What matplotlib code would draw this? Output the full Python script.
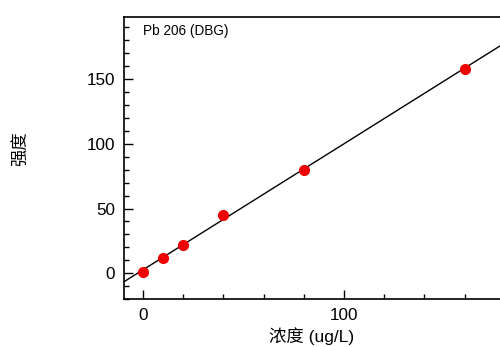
import numpy as np
import matplotlib
matplotlib.use("Agg")
import matplotlib.pyplot as plt
from matplotlib.ticker import MultipleLocator

conc = [0, 10, 20, 40, 80, 160]
intensity = [1, 12, 22, 45, 80, 158]
title_text = "Pb 206 (DBG)"
xlabel = "浓度 (ug/L)"
ylabel = "强度"

plt.rcParams['font.family'] = ['Liberation Sans', 'Noto Sans CJK SC', 'DejaVu Sans']

fig = plt.figure(figsize=(5.0, 3.47), dpi=100)
ax = fig.add_axes([0.248, 0.138, 0.752, 0.813])

slope, inter = np.polyfit(conc, intensity, 1)
xl = (-9.5, 177.6)
xx = np.array([xl[0] - 5, xl[1] + 5])
ax.plot(xx, slope * xx + inter, color='black', lw=1.0, zorder=2)
ax.plot(conc, intensity, 'o', color='#f00000', ms=7, zorder=3)

ax.set_xlim(*xl)
ax.set_ylim(-20, 198)
ax.xaxis.set_major_locator(MultipleLocator(100))
ax.xaxis.set_minor_locator(MultipleLocator(20))
ax.yaxis.set_major_locator(MultipleLocator(50))
ax.yaxis.set_minor_locator(MultipleLocator(10))
ax.tick_params(which='major', direction='in', length=6.5, width=1, labelsize=12.3, pad=6.5)
ax.tick_params(which='minor', direction='in', length=3.6, width=1)
ax.spines['right'].set_visible(False)
for s in ['left', 'top', 'bottom']:
    ax.spines[s].set_linewidth(1.2)

ax.text(0.05, 0.975, title_text, transform=ax.transAxes, fontsize=9.8, va='top', ha='left')
ax.set_xlabel(xlabel, fontsize=12.5, labelpad=3)
ax.set_ylabel(ylabel, fontsize=12.5, family=['Noto Sans CJK SC', 'DejaVu Sans'])
ax.yaxis.set_label_coords(-0.25, 0.535)

fig.savefig("out.png", dpi=100)
